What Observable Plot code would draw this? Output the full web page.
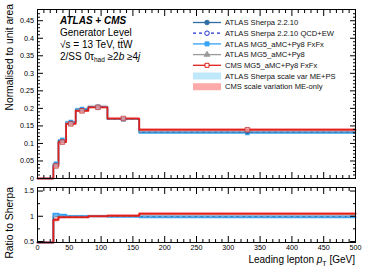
<!DOCTYPE html>
<html><head><meta charset="utf-8">
<script src="https://cdn.jsdelivr.net/npm/d3@7"></script>
<script src="https://cdn.jsdelivr.net/npm/@observablehq/plot@0.6"></script>
<style>
body{margin:0;background:#fff;}
#wrap{position:relative;width:374px;height:268px;font-family:"Liberation Sans",Arial,sans-serif;overflow:hidden;}
#wrap svg{position:absolute;left:0;}
</style></head><body><div id="wrap"></div>
<script>
// ---- data ----
const binEdges = [0, 25, 33, 45, 60, 80, 110, 160, 500];
const sherpa   = [0, 0.040, 0.108, 0.160, 0.197, 0.205, 0.170, 0.132];
const sherpaEW = [0, 0.041, 0.107, 0.161, 0.198, 0.204, 0.169, 0.133];
const mgFxFx   = [0, 0.042, 0.110, 0.161, 0.198, 0.204, 0.169, 0.130];
const mgPy8    = [0, 0.040, 0.108, 0.160, 0.197, 0.205, 0.170, 0.132];
const cms      = [0, 0.036, 0.104, 0.156, 0.193, 0.203, 0.171, 0.139];
const sherpaBandRel = [0, 0.03, 0.02, 0.02, 0.02, 0.02, 0.02, 0.02];
const cmsBandRel    = [0, 0.05, 0.03, 0.02, 0.02, 0.02, 0.02, 0.02];

const ratioSherpa   = [0, 1.00, 1.00, 1.00, 1.00, 1.00, 1.00, 1.00];
const ratioSherpaEW = [0, 1.00, 1.00, 1.00, 1.00, 1.00, 1.00, 1.00];
const ratioMgFxFx   = [0, 1.05, 1.03, 1.00, 1.00, 1.00, 0.99, 0.98];
const ratioMgPy8    = [0, 1.00, 1.00, 1.00, 1.00, 1.00, 1.00, 1.00];
const ratioCms      = [0, 0.93, 0.98, 0.98, 0.98, 1.00, 1.01, 1.05];

const xTicks = [0, 50, 100, 150, 200, 250, 300, 350, 400, 450, 500];
const yTopTicks = [0, 0.05, 0.1, 0.15, 0.2, 0.25, 0.3, 0.35, 0.4, 0.45];
const yRatioTicks = [0.5, 1, 1.5];

const legendLabels = [
  "ATLAS Sherpa 2.2.10",
  "ATLAS Sherpa 2.2.10 QCD+EW",
  "ATLAS MG5_aMC+Py8 FxFx",
  "ATLAS MG5_aMC+Py8",
  "CMS MG5_aMC+Py8 FxFx",
  "ATLAS Sherpa scale var ME+PS",
  "CMS scale variation ME-only"
];

// ---- styles ----
const C = {sherpa:"#2f6ea3", ew:"#1f2fd0", fx:"#35a3f5", mg:"#9a9a9a", cms:"#e0201b", bandS:"#bfe9fb", bandC:"#ffaaaa"};
const FONT = "Liberation Sans, Arial, sans-serif";

function steps(vals){
  const pts = vals.map((v,i)=>({x:binEdges[i], y:v}));
  pts.push({x:binEdges[binEdges.length-1], y:vals[vals.length-1]});
  return pts;
}
function bins(vals){
  return vals.map((v,i)=>({x1:binEdges[i], x2:binEdges[i+1], xc:(binEdges[i]+binEdges[i+1])/2, y:v})).filter((d,i)=>i>0);
}
function bands(vals, rel){
  return vals.map((v,i)=>({x1:binEdges[i], x2:binEdges[i+1], y1:v*(1-rel[i]), y2:v*(1+rel[i])})).filter((d,i)=>i>0);
}
const minorX = d3.range(0, 501, 10).filter(v => v % 50 !== 0);

function frameAxes(yMajor, yMinor, yFmt, xLabels){
  const blank = () => "";
  return [
    Plot.axisY(yMajor, {anchor:"left", tickSize:-6, tickPadding:9.5, tickFormat:yFmt, fontSize:7.2, label:null}),
    Plot.axisY(yMinor, {anchor:"left", tickSize:-3, tickFormat:blank, label:null}),
    Plot.axisY(yMajor, {anchor:"right", tickSize:-6, tickFormat:blank, label:null}),
    Plot.axisY(yMinor, {anchor:"right", tickSize:-3, tickFormat:blank, label:null}),
    Plot.axisX(xTicks, {anchor:"bottom", tickSize:-6, tickPadding:8, tickFormat: xLabels ? (d=>String(d)) : blank, fontSize:7.2, label:null}),
    Plot.axisX(minorX, {anchor:"bottom", tickSize:-3, tickFormat:blank, label:null}),
    Plot.axisX(xTicks, {anchor:"top", tickSize:-6, tickFormat:blank, label:null}),
    Plot.axisX(minorX, {anchor:"top", tickSize:-3, tickFormat:blank, label:null}),
    Plot.frame({stroke:"black", strokeWidth:1})
  ];
}

const wrap = document.getElementById("wrap");

// ---- top panel ----
const topPlot = Plot.plot({
  width: 374, height: 182,
  marginLeft: 37, marginRight: 19, marginTop: 9, marginBottom: 4,
  style: {fontFamily: FONT, fontSize: "7.2px", background: "transparent"},
  x: {domain: [0, 500]},
  y: {domain: [0, 0.482]},
  marks: [
    Plot.rect(bands(sherpa, sherpaBandRel), {x1:"x1", x2:"x2", y1:"y1", y2:"y2", fill:C.bandS}),
    Plot.rect(bands(cms, cmsBandRel), {x1:"x1", x2:"x2", y1:"y1", y2:"y2", fill:C.bandC, fillOpacity:0.8}),
    Plot.line(steps(mgPy8), {x:"x", y:"y", curve:"step-after", stroke:C.mg, strokeWidth:1.2}),
    Plot.line(steps(mgFxFx), {x:"x", y:"y", curve:"step-after", stroke:C.fx, strokeWidth:1.6}),
    Plot.line(steps(sherpa), {x:"x", y:"y", curve:"step-after", stroke:C.sherpa, strokeWidth:1.2}),
    Plot.line(steps(sherpaEW), {x:"x", y:"y", curve:"step-after", stroke:"#8fb0d8", strokeWidth:1, strokeDasharray:"3,3"}),
    Plot.line(steps(cms), {x:"x", y:"y", curve:"step-after", stroke:C.cms, strokeWidth:1.8}),
    Plot.dot(bins(mgFxFx), {x:"xc", y:"y", symbol:"square", fill:C.fx, r:2.6}),
    Plot.dot(bins(sherpa), {x:"xc", y:"y", symbol:"circle", fill:C.sherpa, r:2}),
    Plot.dot(bins(cms), {x:"xc", y:"y", symbol:"square", fill:"#f2a0a0", fillOpacity:0.8, stroke:"#c04040", strokeWidth:0.8, r:2.6}),
    ...frameAxes(yTopTicks, d3.range(0, 0.48, 0.01).filter(v => Math.abs(v*20 - Math.round(v*20)) > 1e-6), d => String(+d.toFixed(2)), false)
  ]
});
topPlot.style.top = "0px";
wrap.appendChild(topPlot);

// ---- ratio panel ----
const ratioPlot = Plot.plot({
  width: 374, height: 86,
  marginLeft: 37, marginRight: 19, marginTop: 5, marginBottom: 26,
  style: {fontFamily: FONT, fontSize: "7.2px", background: "transparent"},
  x: {domain: [0, 500]},
  y: {domain: [0.48, 1.57], clamp: true},
  marks: [
    Plot.rect(bands(ratioSherpa, sherpaBandRel), {x1:"x1", x2:"x2", y1:"y1", y2:"y2", fill:C.bandS}),
    Plot.rect(bands(ratioCms, cmsBandRel), {x1:"x1", x2:"x2", y1:"y1", y2:"y2", fill:C.bandC, fillOpacity:0.8}),
    Plot.line(steps(ratioMgPy8), {x:"x", y:"y", curve:"step-after", stroke:C.mg, strokeWidth:1.2}),
    Plot.line(steps(ratioMgFxFx), {x:"x", y:"y", curve:"step-after", stroke:C.fx, strokeWidth:2}),
    Plot.line(steps(ratioSherpa), {x:"x", y:"y", curve:"step-after", stroke:C.sherpa, strokeWidth:1}),
    Plot.line(steps(ratioSherpaEW), {x:"x", y:"y", curve:"step-after", stroke:"#8fb0d8", strokeWidth:1, strokeDasharray:"3,3"}),
    Plot.line(steps(ratioCms), {x:"x", y:"y", curve:"step-after", stroke:C.cms, strokeWidth:2}),
    ...frameAxes(yRatioTicks, [0.75, 1.25], d => String(d), true)
  ]
});
ratioPlot.style.top = "182px";
wrap.appendChild(ratioPlot);

// ---- overlay: texts & legend ----
const ov = d3.select(wrap).append("svg").attr("width", 374).attr("height", 268).style("top", "0px")
  .style("font-family", FONT).style("pointer-events", "none");

ov.append("text").attr("x", 60).attr("y", 23.5).attr("font-size", 10).attr("font-weight", "bold").attr("font-style", "italic").text("ATLAS + CMS");
ov.append("text").attr("x", 60).attr("y", 36).attr("font-size", 10).text("Generator Level");
const t3 = ov.append("text").attr("x", 60).attr("y", 47.5).attr("font-size", 10);
t3.append("tspan").text("√s = 13 TeV, t");
t3.append("tspan").text("t\u0304");
t3.append("tspan").text("W");
const t4 = ov.append("text").attr("x", 60).attr("y", 59.5).attr("font-size", 10);
t4.append("tspan").text("2/SS 0τ");
t4.append("tspan").attr("font-size", 6.5).attr("dy", 2).text("had");
t4.append("tspan").attr("dy", -2).text(" ≥2");
t4.append("tspan").attr("font-style", "italic").text("b");
t4.append("tspan").text(" ≥4");
t4.append("tspan").attr("font-style", "italic").text("j");

// axis titles
ov.append("text").attr("transform", "translate(12.5,4) rotate(-90)").attr("text-anchor", "end").attr("font-size", 10.3).text("Normalised to unit area");
ov.append("text").attr("transform", "translate(12.5,187) rotate(-90)").attr("text-anchor", "end").attr("font-size", 10.3).text("Ratio to Sherpa");
const xt = ov.append("text").attr("x", 355).attr("y", 263).attr("text-anchor", "end").attr("font-size", 10);
xt.append("tspan").text("Leading lepton ");
xt.append("tspan").attr("font-style", "italic").text("p");
xt.append("tspan").attr("font-size", 7).attr("dy", 2.5).text("T");
xt.append("tspan").attr("dy", -2.5).text(" [GeV]");

// legend
const legendStyles = [
  {stroke:C.sherpa, dash:null, sym:"circle", fill:C.sherpa},
  {stroke:C.ew, dash:"3,3", sym:"circle", fill:"white"},
  {stroke:C.fx, dash:null, sym:"square", fill:C.fx},
  {stroke:C.mg, dash:null, sym:"triangle", fill:C.mg},
  {stroke:C.cms, dash:null, sym:"square", fill:"white"},
  {band:C.bandS},
  {band:C.bandC}
];
legendLabels.forEach((lab, i) => {
  const y = 22.5 + i * 10.7;
  const s = legendStyles[i];
  if (s.band) {
    ov.append("rect").attr("x", 193).attr("y", y - 3.5).attr("width", 28).attr("height", 7).attr("fill", s.band);
  } else {
    ov.append("line").attr("x1", 193).attr("x2", 221).attr("y1", y).attr("y2", y)
      .attr("stroke", s.stroke).attr("stroke-width", 1.3).attr("stroke-dasharray", s.dash);
    const sym = s.sym === "circle" ? d3.symbolCircle : s.sym === "square" ? d3.symbolSquare : d3.symbolTriangle;
    ov.append("path").attr("transform", `translate(207,${y})`).attr("d", d3.symbol(sym, s.sym === "triangle" ? 14 : 16)())
      .attr("fill", s.fill).attr("stroke", s.stroke).attr("stroke-width", 1);
  }
  ov.append("text").attr("x", 225).attr("y", y + 2.7).attr("font-size", 7.6).attr("fill", "#111").text(lab);
});
</script></body></html>
